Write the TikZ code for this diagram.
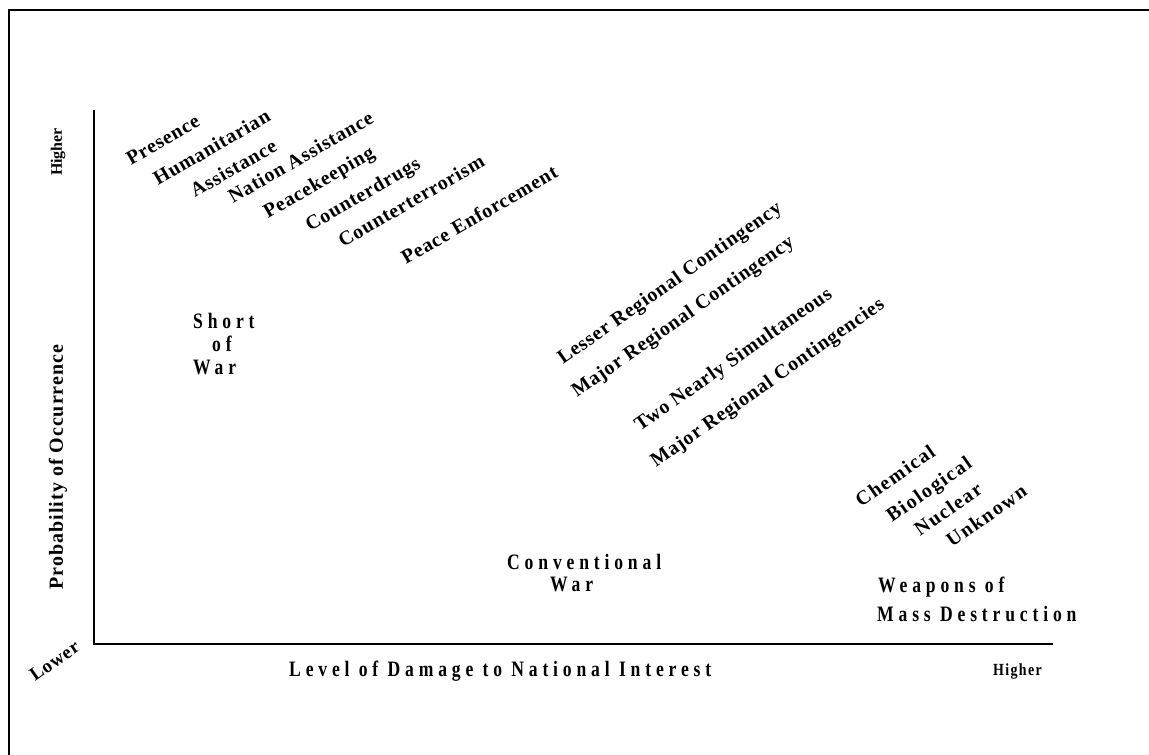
\documentclass[tikz,border=0pt]{standalone}
\usepackage{fontspec}
\setmainfont{Liberation Serif}
\newfontfamily\rotfont{Liberation Serif}[LetterSpace=4]
\newfontfamily\wmdfont{Liberation Serif}[LetterSpace=8]
\newfontfamily\widefont{Liberation Serif}[FakeStretch=0.8,LetterSpace=22]
\newfontfamily\smallwide{Liberation Serif}[FakeStretch=0.82,LetterSpace=8]
\newfontfamily\axfont{Liberation Serif}[LetterSpace=5]
\begin{document}
\begin{tikzpicture}[x=1pt,y=-1pt,
  diagA/.style={anchor=base west,inner sep=0pt,rotate=30,
    font=\rotfont\bfseries\fontsize{20}{23}\selectfont},
  diagB/.style={anchor=base west,inner sep=0pt,rotate=35,
    font=\rotfont\bfseries\fontsize{20}{23}\selectfont},
  diagC/.style={anchor=base west,inner sep=0pt,rotate=35,
    font=\wmdfont\bfseries\fontsize{20}{23}\selectfont},
  region/.style={anchor=base west,inner sep=0pt,
    font=\widefont\bfseries\fontsize{22}{26}\selectfont},
  axislab/.style={inner sep=0pt,rotate=90,
    font=\axfont\bfseries\fontsize{20}{24}\selectfont},
  frame/.style={line width=2pt},
  axisline/.style={line width=2.2pt}]
\useasboundingbox (0,0) rectangle (1149,755);
\fill[white] (0,0) rectangle (1149,755);
% outer frame (top and left only)
\coordinate (fbl) at (9,755);
\coordinate (ftl) at (9,10);
\coordinate (ftr) at (1149,10);
\draw[frame] (fbl) -- (ftl) -- (ftr);
% axes
\coordinate (ytop) at (94,110);
\coordinate (orig) at (94,644);
\coordinate (xend) at (1053,644);
\draw[axisline] (ytop) -- (orig) -- (xend);
% upper cluster
\node[diagA] (presence) at (131,166) {Presence};
\node[diagA] (humanit) at (158,186) {Humanitarian};
\node[diagA] (assist) at (195,198) {Assistance};
\node[diagA] (nation) at (233,204) {Nation Assistance};
\node[diagA] (peacek) at (268,219) {Peacekeeping};
\node[diagA] (cdrugs) at (310,232) {Counterdrugs};
\node[diagA] (cterr) at (343,248) {Counterterrorism};
\node[diagA] (penf) at (406,265) {Peace Enforcement};
% middle cluster
\node[diagB] (lrc) at (563,365) {Lesser Regional Contingency};
\node[diagB] (mrc) at (577,398) {Major Regional Contingency};
\node[diagB] (two) at (640,432) {Two Nearly Simultaneous};
\node[diagB] (mrcs) at (656,468) {Major Regional Contingencies};
% WMD cluster
\node[diagC] (chem) at (861,508) {Chemical};
\node[diagC] (bio) at (892,523) {Biological};
\node[diagC] (nuc) at (920,537) {Nuclear};
\node[diagC] (unk) at (952,548) {Unknown};
% region labels
\node[region] (short) at (193,328) {Short};
\node[region] (of) at (212,351) {of};
\node[region] (war1) at (193,374) {War};
\node[region] (conv) at (507,569) {Conventional};
\node[region] (war2) at (550,591) {War};
\node[region] (weap) at (878,592) {Weapons of};
\node[region] (mass) at (877,621) {Mass Destruction};
% axis labels
\node[region] (xlab) at (289,676) {Level of Damage to National Interest};
\node[anchor=base west,inner sep=0pt,font=\smallwide\bfseries\fontsize{17}{20}\selectfont] (xhigh) at (993,675) {Higher};
\node[axislab] (ylab) at (58,467) {Probability of Occurrence};
\node[inner sep=0pt,rotate=90,font=\bfseries\fontsize{16}{19}\selectfont] (yhigh) at (58,152) {Higher};
\node[diagB,font=\rotfont\bfseries\fontsize{19}{22}\selectfont] (lower) at (35,682) {Lower};
\end{tikzpicture}
\end{document}
